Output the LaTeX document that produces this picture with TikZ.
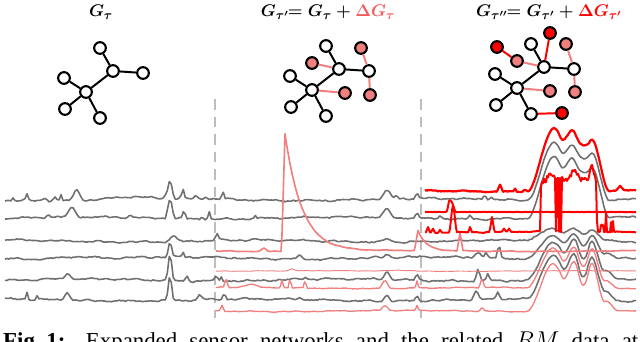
\documentclass[tikz,border=0pt]{standalone}
\usepackage{fontspec}
\newfontfamily\capfont{Liberation Serif}
\definecolor{Trace}{HTML}{707070}
\definecolor{Coral}{HTML}{F08080}
\definecolor{Alarm}{HTML}{FF0000}
\definecolor{Salmon}{HTML}{F25C5C}
\definecolor{Divider}{HTML}{BDBDBD}
\tikzset{
  sensor/.style={
    circle,draw=black,line width=1.8pt,fill=white,
    minimum size=0.35cm,inner sep=0pt
  },
  newsensor/.style={sensor,fill=Coral},
  latesensor/.style={sensor,fill=Alarm},
  link/.style={line width=1.7pt,draw=black},
  newlink/.style={link,draw=Coral},
  latelink/.style={link,draw=Alarm},
  greytrace/.style={draw=Trace,line width=1.35pt,line join=round},
  pinktrace/.style={draw=Coral,line width=1.15pt,line join=round},
  redtrace/.style={draw=Alarm,line width=1.7pt,line join=round},
  divider/.style={draw=Divider,line width=2.3pt,dash pattern=on 9pt off 6pt},
  title/.style={font=\fontsize{15.5}{18}\selectfont\boldmath,anchor=base,inner sep=0pt}
}
% base sensor graph: prefix, x, y of the centre hub
\newcommand{\sensorgraph}[3]{%
  \begin{scope}[shift={(#2,#3)}]
    \node[sensor] (#1c) at (0,0) {};
    \node[sensor] (#1h) at (27,-21) {};
    \node[sensor] (#1t) at (14,-44) {};
    \node[sensor] (#1r) at (57,-19) {};
    \node[sensor] (#1lu) at (-22,-14) {};
    \node[sensor] (#1ll) at (-21,17) {};
    \node[sensor] (#1b) at (14,26) {};
  \end{scope}
  \draw[link] (#1t) -- (#1h);
  \draw[link] (#1h) -- (#1r);
  \draw[link] (#1h) -- (#1c);
  \draw[link] (#1c) -- (#1lu);
  \draw[link] (#1c) -- (#1ll);
  \draw[link] (#1c) -- (#1b);
}

\begin{document}
\begin{tikzpicture}[x=0.03cm,y=-0.03cm,
  declare function={
    tri(\x,\c,\w)=max(0,1-abs(\x-\c)/\w);
    sb(\x,\c,\w)=tri(\x,\c,\w)^2*(3-2*tri(\x,\c,\w));
    hup(\x)=sb(\x,554,27)+0.79*sb(\x,575,15)+0.81*sb(\x,592,17);
    hlo(\x)=sb(\x,553,26)+0.95*sb(\x,575,13)+sb(\x,592,13)+0.2*sb(\x,606,12);
    jit(\x,\p)=0.5*rand+0.55*sin(9*\x+\p)+0.4*sin(23*\x+2*\p)+1.1*sin(1.4*\x+3*\p);
  }]
  \pgfmathsetseed{7}
  \useasboundingbox (0,0) rectangle (640,342);
  \clip (0,0) rectangle (640,342);

  % titles
  \node[title] (t1) at (101,17) {$G_\tau$};
  \node[title] (t2) at (328,17) {$G_{\tau'}\!\!= G_\tau + {\color{Salmon}\Delta G_\tau}$};
  \node[title] (t3) at (549,17) {$G_{\tau''}\!\!= G_{\tau'} + {\color{Alarm}\Delta G_{\tau'}}$};

  % graphs
  \sensorgraph{a}{86}{92}
  \sensorgraph{b}{312}{90}
  \sensorgraph{c}{517}{88}
  \begin{scope}[shift={(312,90)}]
    \node[newsensor] (bpl) at (0,-27) {};
    \node[newsensor] (bptr) at (49,-42) {};
    \node[newsensor] (bpm) at (33,3) {};
    \node[newsensor] (bpbr) at (58,5) {};
  \end{scope}
  \draw[newlink] (bpl) -- (bh);
  \draw[newlink] (bptr) -- (br);
  \draw[newlink] (br) -- (bpbr);
  \draw[newlink] (bc) -- (bpm);
  \begin{scope}[shift={(517,88)}]
    \node[newsensor] (cpl) at (0,-27) {};
    \node[newsensor] (cptr) at (49,-44) {};
    \node[newsensor] (cpm) at (33,3) {};
    \node[newsensor] (cpbr) at (58,4) {};
    \node[latesensor] (crtl) at (-20,-41) {};
    \node[latesensor] (crt) at (33,-55) {};
    \node[latesensor] (crbr) at (45,25) {};
  \end{scope}
  \draw[newlink] (cpl) -- (ch);
  \draw[newlink] (cptr) -- (cr);
  \draw[newlink] (cr) -- (cpbr);
  \draw[newlink] (cc) -- (cpm);
  \draw[latelink] (crtl) -- (cpl);
  \draw[latelink] (crt) -- (ch);
  \draw[latelink] (cb) -- (crbr);

  % dividers
  \coordinate (d1top) at (215,99);
  \coordinate (d1bot) at (215,318);
  \coordinate (d2top) at (421,99);
  \coordinate (d2bot) at (421,318);
  \draw[divider] (d1top) -- (d1bot);
  \draw[divider] (d2top) -- (d2bot);

  % grey traces
  \draw[greytrace] plot[domain=5:636,samples=316] (\x,{199.5+jit(\x,10)-3*tri(\x,13,2)-6*tri(\x,27,2.5)-3*tri(\x,45,4)-4*tri(\x,55,3)-6*tri(\x,61,2)-10*sb(\x,77,7)-2*sb(\x,130,40)-4*tri(\x,165,2)-18*sb(\x,170,5)-9*tri(\x,183,2.5)-3*tri(\x,196,3)-3*tri(\x,206,3)-8*tri(\x,223,2.5)-8*sb(\x,387,8)-4*tri(\x,396,3)-6*tri(\x,417,3)-5*tri(\x,485,3)-4*tri(\x,491,2)-58*hup(\x)});
  \draw[greytrace] plot[domain=5:636,samples=316] (\x,{218+jit(\x,50)-4*tri(\x,48,3)-9*sb(\x,72,8)-3*tri(\x,130,3)-20*sb(\x,170,5)-8*tri(\x,184,3)-4*tri(\x,202,2)-9*tri(\x,209,2)-3*tri(\x,255,2)-8*sb(\x,387,8)-6*tri(\x,417,3)-4*tri(\x,440,3)-4*tri(\x,470,3)-61*hup(\x)});
  \draw[greytrace] plot[domain=5:636,samples=316] (\x,{241+jit(\x,90)-5*sb(\x,173,8)-7*tri(\x,217,3)-3*sb(\x,387,8)-12*hlo(\x)});
  \draw[greytrace] plot[domain=5:636,samples=316] (\x,{258+jit(\x,130)-2*sb(\x,75,40)-14*sb(\x,170,4)-5*tri(\x,183,2)-4*tri(\x,300,4)-3*sb(\x,387,6)-6*sb(\x,478,6)-5*tri(\x,486,3)-14*tri(\x,499,3)-24*hlo(\x)});
  \draw[greytrace] plot[domain=5:636,samples=316] (\x,{280+jit(\x,170)-6*sb(\x,68,6)-25*sb(\x,170,4)-5*tri(\x,187,3)-5*tri(\x,216,3)-5*tri(\x,221,2)-3*tri(\x,305,3)-8*sb(\x,387,6)-6*tri(\x,417,3)-12*sb(\x,478,4)-8*tri(\x,488,3)-38*hlo(\x)});
  \draw[greytrace] plot[domain=5:636,samples=316] (\x,{300+jit(\x,210)-7*tri(\x,27,2)-3*tri(\x,37,2)-8*sb(\x,67,6)-24*sb(\x,170,4)-5*tri(\x,200,4)-7*tri(\x,224,3)-3*tri(\x,300,4)-6*sb(\x,387,6)-5*tri(\x,417,3)-8*sb(\x,476,5)-8*tri(\x,498,3)-44*hlo(\x)});

  % pink traces
  \draw[pinktrace,line width=1.4pt] plot[domain=216:636,samples=421] (\x,{251+0.4*jit(\x,20)-3*sb(\x,264,5)-118*(\x>281.5)*min(1,(\x-281.5)/3.5)*exp(-min(9,max(0,\x-285)/17))-20*(\x>414.5)*min(1,(\x-414.5)/3.5)*exp(-min(9,max(0,\x-418)/8))-18*tri(\x,460,3)});
  \draw[pinktrace,line width=0.8pt] plot[domain=216:636,samples=211] (\x,{271+0.25*jit(\x,60)-2*tri(\x,292,5)-1*tri(\x,400,20)});
  \draw[pinktrace] plot[domain=216:636,samples=281] (\x,{288+0.5*jit(\x,100)-10*tri(\x,226,2.5)-3*sb(\x,250,15)-8*tri(\x,282,2)-10*tri(\x,290,2)-8*tri(\x,305,2)-8*sb(\x,385,6)-7*tri(\x,417,2)-10*tri(\x,482,3)-40*hlo(\x)});
  \draw[pinktrace] plot[domain=216:636,samples=281] (\x,{311+0.5*jit(\x,140)-6*tri(\x,222,2.5)-5*sb(\x,385,6)-5*tri(\x,417,2)-4*tri(\x,482,3)-48*hlo(\x)});

  % red traces
  \draw[redtrace,line width=1.9pt] plot[domain=425:636,samples=212] (\x,{191+0.6*jit(\x,30)-7*tri(\x,500,3)-3*tri(\x,515,2)-2*tri(\x,525,3)-63*hup(\x)-4*tri(\x,620,4)});
  \draw[redtrace] plot[domain=425:636,samples=212] (\x,{212+0.3*rand-11*sb(\x,451,5)-4*tri(\x,449,1.5)});
  \draw[redtrace] plot[domain=425:636,samples=212] (\x,{232+0.5*jit(\x,70)-5*tri(\x,428,2)-4*tri(\x,433,2)-3*tri(\x,440,2)-27*sb(\x,453,4)-5*tri(\x,470,2)-15*tri(\x,492,2.5)-3*tri(\x,504,2)-3*tri(\x,509,2)-(\x>540)*(\x<597)*(1-(\x>555)*(\x<564)*(rand<0))*(36+20*hup(\x)+8*sb(\x,575,6)+14*sb(\x,592,4)+3*rand)-(\x>596)*(\x<614)*(rand>0.2)*(6+14*abs(rand))});

  % caption, cut by the page edge
  \node[anchor=base west,inner sep=0pt,font=\capfont\fontsize{19.5}{22}\selectfont] (cap) at (3,348)
    {\makebox[19.05cm][s]{\textbf{Fig.\hspace{0.25em}1:} Expanded sensor networks and the related $RM$ data at}};
\end{tikzpicture}
\end{document}
